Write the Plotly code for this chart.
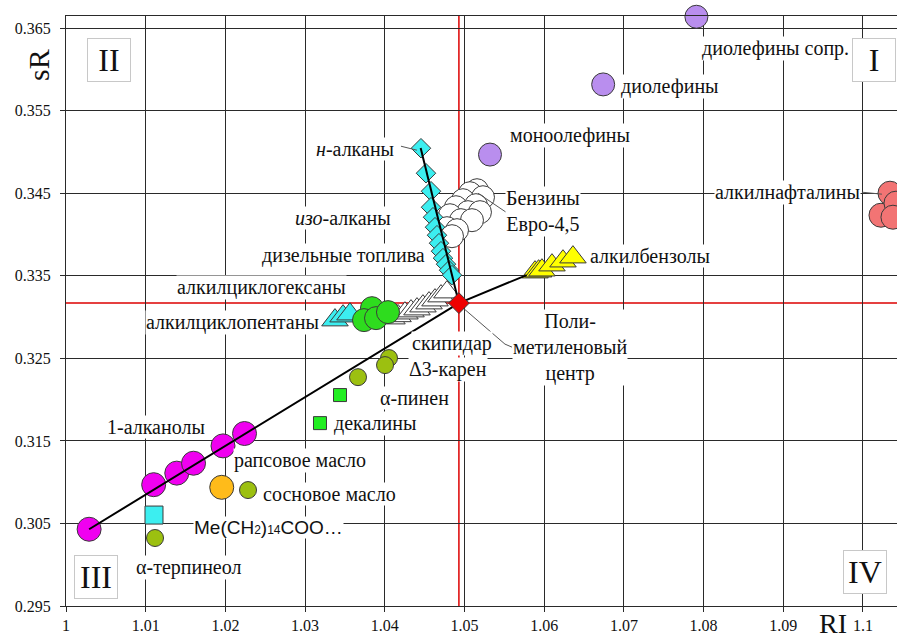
import plotly.graph_objects as go

# ---- data: (RI, sR) coordinates of each group ----
alkanols_x = [1.0029, 1.0110, 1.0139, 1.0160, 1.0197, 1.0224]
alkanols_y = [0.3043, 0.3097, 0.3111, 0.3123, 0.3144, 0.3159]

n_alkanes_x = [1.04454, 1.04517, 1.04580, 1.04580, 1.04605, 1.04630, 1.04655,
               1.04680, 1.04705, 1.04730, 1.04768, 1.04806, 1.04843]
n_alkanes_y = [0.35047, 0.34744, 0.34526, 0.34332, 0.34211, 0.34090, 0.33993,
               0.33896, 0.33799, 0.33715, 0.33642, 0.33569, 0.33509]

gasoline_x = [1.05157, 1.05069, 1.05232, 1.04981, 1.05144, 1.04893, 1.05044,
              1.05194, 1.04818, 1.04956, 1.05094, 1.04780, 1.04906, 1.04843]
gasoline_y = [0.34538, 0.34502, 0.34453, 0.34417, 0.34357, 0.34332, 0.34272,
              0.34272, 0.34235, 0.34175, 0.34175, 0.34078, 0.34054, 0.33981]

olefins_x = [1.0532, 1.0674, 1.0791]
olefins_y = [0.3497, 0.3582, 0.3664]

naphthalenes_x = [1.10226, 1.10339, 1.10414, 1.10376, 1.10464]
naphthalenes_y = [0.34235, 0.34502, 0.34381, 0.34211, 0.34466]

benzenes_x = [1.05885, 1.05930, 1.05972, 1.06098, 1.06236, 1.06361]
benzenes_y = [0.33545, 0.33557, 0.33569, 0.33630, 0.33678, 0.33727]

diesel_x = [1.04090, 1.04166, 1.04253, 1.04329, 1.04404, 1.04479, 1.04555,
            1.04630, 1.04705, 1.04780]
diesel_y = [0.32988, 0.33015, 0.33048, 0.33073, 0.33097, 0.33133, 0.33170,
            0.33206, 0.33255, 0.33303]

cyclopentanes_x = [1.03375, 1.03476, 1.03563]
cyclopentanes_y = [0.32964, 0.33012, 0.33036]

cyclohexanes_x = [1.03839, 1.03739, 1.03890, 1.04040]
cyclohexanes_y = [0.33109, 0.32964, 0.32988, 0.33061]

terpenes_x = [1.04053, 1.04003, 1.03664, 1.02284, 1.01117]
terpenes_y = [0.32504, 0.32419, 0.32273, 0.30905, 0.30324]

decalins_x = [1.03438, 1.03187]
decalins_y = [0.32056, 0.31716]

rapeseed_x = [1.01954]
rapeseed_y = [0.30938]

ester_x = [1.01104]
ester_y = [0.30602]

center_x = [1.0493]
center_y = [0.3317]

# trend lines through the polymethylene centre
trend_a_x = [1.0029, 1.0493, 1.0578]
trend_a_y = [0.3043, 0.3317, 0.3351]
trend_b_x = [1.0445, 1.0493]
trend_b_y = [0.3505, 0.3317]

# leader lines from labels to groups
leaders = [
    ([1.04203, 1.04404], [0.35071, 0.35023]),
    ([1.05169, 1.05521], [0.34502, 0.34272]),
    ([1.04956, 1.05508, 1.05596], [0.33133, 0.32673, 0.32637]),
    ([1.09987, 1.10238], [0.34514, 0.34490]),
]

# text labels
label_text = ["диолефины сопр.", "диолефины", "моноолефины", "<i>н</i>-алканы",
              "<i>изо</i>-алканы", "дизельные топлива", "алкилциклогексаны",
              "алкилциклопентаны", "скипидар", "Δ3-карен", "α-пинен", "декалины",
              "1-алканолы", "рапсовое масло", "сосновое масло",
              "α-терпинеол", "Бензины<br>Евро-4,5", "алкилбензолы",
              "алкилнафталины", "Поли-<br>метиленовый<br>центр"]
label_x = [1.08908, 1.07578, 1.06324, 1.03626, 1.03476, 1.03476, 1.02459,
           1.02083, 1.04843, 1.04793, 1.04379, 1.03877, 1.01129, 1.02936,
           1.03312, 1.01531, 1.05985, 1.07327, 1.09059, 1.06324]
label_y = [0.36258, 0.35798, 0.35204, 0.35035, 0.34199, 0.33751, 0.33363,
           0.32940, 0.32685, 0.32370, 0.32019, 0.31716, 0.31668, 0.31268,
           0.30856, 0.29972, 0.34284, 0.33739, 0.34514, 0.32637]

ester_label = ("Me(CH<span style='font-size:12px'>2</span>)"
               "<span style='font-size:12px'>14</span>COO…")
ester_label_x = 1.02547
ester_label_y = 0.30457

quadrant_text = ["I", "II", "III", "IV"]
quadrant_x = [1.10138, 1.0054, 1.00376, 1.10025]
quadrant_y = [0.36113, 0.36113, 0.29851, 0.29912]

SERIF = "Liberation Serif, Times New Roman, serif"
EDGE = dict(color="#3a3a3a", width=1)

fig = go.Figure()


def add_markers(x, y, symbol, size, color, edge=EDGE):
    fig.add_trace(go.Scatter(
        x=x, y=y, mode="markers", cliponaxis=False, showlegend=False,
        marker=dict(symbol=symbol, size=size, color=color, line=edge)))


add_markers(diesel_x, diesel_y, "triangle-up", 23, "white")
add_markers(cyclopentanes_x, cyclopentanes_y, "triangle-up", 23, "#3CEEF0")
add_markers(cyclohexanes_x, cyclohexanes_y, "circle", 23, "#2EDC1E")
add_markers(gasoline_x, gasoline_y, "circle", 23, "white")
add_markers(n_alkanes_x, n_alkanes_y, "diamond", 15, "#3CEEF0")
add_markers(olefins_x, olefins_y, "circle", 23, "#B98EEE")
add_markers(naphthalenes_x, naphthalenes_y, "circle", 24, "#F27474")
add_markers(benzenes_x, benzenes_y, "triangle-up", 23, "#FFFF00")
add_markers(terpenes_x, terpenes_y, "circle", 17, "#9CC010")
add_markers(decalins_x, decalins_y, "square", 13, "#22EE22")
add_markers(alkanols_x, alkanols_y, "circle", 24, "#F000F0")
add_markers(rapeseed_x, rapeseed_y, "circle", 24, "#FFBB1A")
add_markers(ester_x, ester_y, "square", 18, "#3CEEF0")

for lx, ly in leaders:
    fig.add_trace(go.Scatter(x=lx, y=ly, mode="lines", showlegend=False,
                             cliponaxis=False,
                             line=dict(color="#555555", width=1)))

for tx, ty in [(trend_a_x, trend_a_y), (trend_b_x, trend_b_y)]:
    fig.add_trace(go.Scatter(x=tx, y=ty, mode="lines", showlegend=False,
                             line=dict(color="black", width=2)))

add_markers(center_x, center_y, "diamond", 16, "#EE0000")

# red cross-hair through the polymethylene centre
fig.add_shape(type="line", xref="x", yref="paper", x0=center_x[0], x1=center_x[0],
              y0=0, y1=1, line=dict(color="#DD0000", width=1.5), layer="between")
fig.add_shape(type="line", xref="paper", yref="y", x0=0, x1=1,
              y0=center_y[0], y1=center_y[0],
              line=dict(color="#DD0000", width=1.5), layer="between")

for t, x, y in zip(label_text, label_x, label_y):
    fig.add_annotation(x=x, y=y, text=t, showarrow=False, bgcolor="white",
                       borderpad=0, font=dict(family=SERIF, size=20, color="#111111"))

fig.add_annotation(x=ester_label_x, y=ester_label_y, text=ester_label,
                   showarrow=False, bgcolor="white", borderpad=0,
                   font=dict(family="Liberation Sans, Arial, sans-serif", size=19,
                             color="#111111"))

for t, x, y in zip(quadrant_text, quadrant_x, quadrant_y):
    fig.add_annotation(x=x, y=y, text=t, showarrow=False, bgcolor="white",
                       bordercolor="#C8C8C8", borderwidth=1, width=40, height=40,
                       font=dict(family=SERIF, size=32, color="#111111"))

# axis titles
fig.add_annotation(xref="paper", yref="paper", x=-0.0325, y=0.917, text="sR",
                   textangle=-90, showarrow=False, xanchor="center", yanchor="middle",
                   font=dict(family=SERIF, size=30, color="#111111"))
fig.add_annotation(xref="paper", yref="paper", x=0.923, y=-0.0593, text="RI",
                   showarrow=False, xanchor="center", yanchor="bottom",
                   font=dict(family=SERIF, size=28, color="#111111"))

axis_common = dict(showgrid=True, gridcolor="#2a2a2a", gridwidth=1,
                   showline=True, linecolor="#2a2a2a", linewidth=1, mirror=True,
                   ticks="outside", ticklen=5, tickcolor="#2a2a2a",
                   zeroline=False,
                   tickfont=dict(family=SERIF, size=16, color="#111111"))

fig.update_layout(
    width=897, height=641,
    margin=dict(l=66, r=0, t=16, b=35),
    paper_bgcolor="white", plot_bgcolor="white",
    xaxis=dict(range=[1.0, 1.10427], tick0=1.0, dtick=0.01, **axis_common),
    yaxis=dict(range=[0.295, 0.36649], tick0=0.295, dtick=0.01,
               ticklabelstandoff=6, **axis_common),
)

fig.write_html("out.html")
